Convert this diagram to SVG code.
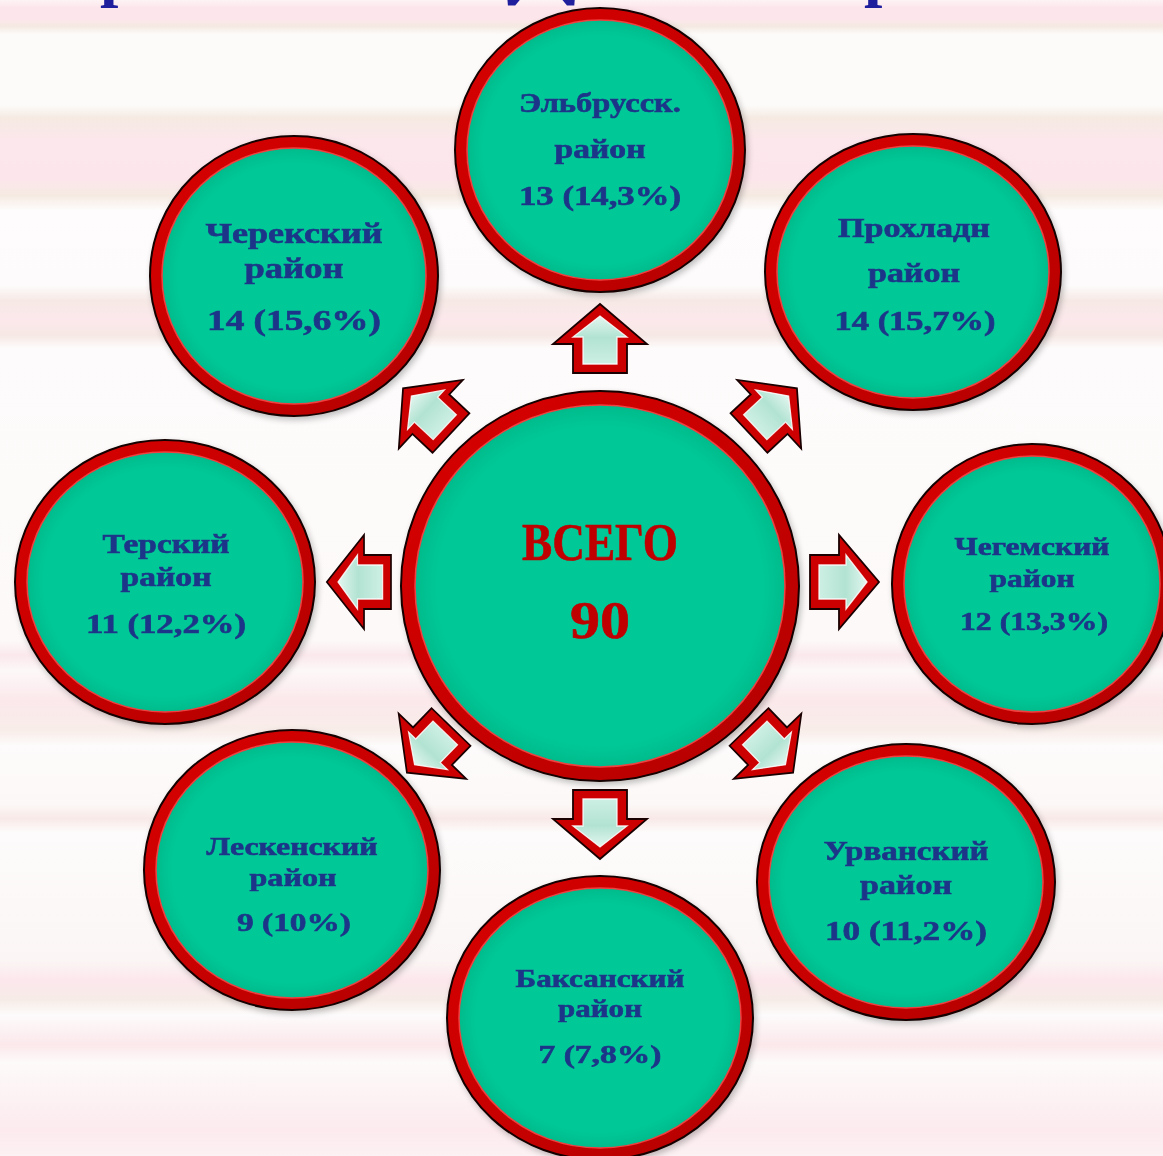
<svg xmlns="http://www.w3.org/2000/svg" width="1163" height="1156" viewBox="0 0 1163 1156">
<defs>
<linearGradient id="bg" gradientUnits="userSpaceOnUse" x1="0" y1="0" x2="0" y2="1156">
<stop offset="0" stop-color="#FDF3F5"/>
<stop offset="0.007" stop-color="#FCE5EB"/>
<stop offset="0.017" stop-color="#FCE6EB"/>
<stop offset="0.0225" stop-color="#F4E9E1"/>
<stop offset="0.03" stop-color="#FDFBFA"/>
<stop offset="0.091" stop-color="#FCFBF9"/>
<stop offset="0.102" stop-color="#F5EAE2"/>
<stop offset="0.121" stop-color="#FCE7EC"/>
<stop offset="0.156" stop-color="#FCE6EB"/>
<stop offset="0.169" stop-color="#F5EAE2"/>
<stop offset="0.182" stop-color="#FEFCFC"/>
<stop offset="0.247" stop-color="#FDFBFB"/>
<stop offset="0.26" stop-color="#F6E9E5"/>
<stop offset="0.277" stop-color="#FCE8EC"/>
<stop offset="0.29" stop-color="#F6E8E4"/>
<stop offset="0.301" stop-color="#FDFBFB"/>
<stop offset="0.554" stop-color="#FDF9F9"/>
<stop offset="0.567" stop-color="#FAE8EC"/>
<stop offset="0.58" stop-color="#FDF8F8"/>
<stop offset="0.606" stop-color="#FBE8EB"/>
<stop offset="0.632" stop-color="#F8EDE9"/>
<stop offset="0.645" stop-color="#FDFBFB"/>
<stop offset="0.696" stop-color="#FCF8F7"/>
<stop offset="0.708" stop-color="#F8E9E7"/>
<stop offset="0.72" stop-color="#FDFBFB"/>
<stop offset="0.83" stop-color="#FBF6F5"/>
<stop offset="0.848" stop-color="#FCE7EC"/>
<stop offset="0.865" stop-color="#F6ECE7"/>
<stop offset="0.878" stop-color="#FDFBFB"/>
<stop offset="0.904" stop-color="#FBE8EB"/>
<stop offset="0.919" stop-color="#FDFAFA"/>
<stop offset="0.978" stop-color="#FCEAEE"/>
<stop offset="1" stop-color="#FCF1F3"/>
</linearGradient>
<linearGradient id="ring" x1="0" y1="0" x2="1" y2="1">
<stop offset="0" stop-color="#D80000"/>
<stop offset="0.5" stop-color="#C80000"/>
<stop offset="1" stop-color="#B20000"/>
</linearGradient>
<radialGradient id="teal" cx="0.5" cy="0.5" r="0.5">
<stop offset="0.88" stop-color="#00C897"/>
<stop offset="1" stop-color="#00BB8C"/>
</radialGradient>
<linearGradient id="mint" x1="0" y1="0" x2="1" y2="0">
<stop offset="0" stop-color="#CDEFE4"/>
<stop offset="0.55" stop-color="#B2E3D2"/>
<stop offset="1" stop-color="#E3F6EF"/>
</linearGradient>
<filter id="sh" x="-10%" y="-10%" width="125%" height="125%">
<feGaussianBlur in="SourceAlpha" stdDeviation="3"/>
<feOffset dx="2" dy="3" result="b"/>
<feComponentTransfer><feFuncA type="linear" slope="0.25"/></feComponentTransfer>
<feMerge><feMergeNode/><feMergeNode in="SourceGraphic"/></feMerge>
</filter>
<g id="arrow">
<path d="M0,-27 L29,-27 L29,-47 L69,0 L29,47 L29,27 L0,27 Z" fill="#CC0000" stroke="#1a0000" stroke-width="1.8" stroke-linejoin="miter"/>
<path d="M9,-17 L36,-17 L36,-27 L57,0 L36,27 L36,17 L9,17 Z" fill="url(#mint)" stroke="#ffffff" stroke-width="1.3" stroke-opacity="0.85"/>
</g>
</defs>
<style>
.ring{fill:url(#ring);stroke:#140000;stroke-width:2}
.core{fill:url(#teal);stroke:#F04040;stroke-width:1.5}
.lbl{font-family:"Liberation Serif","DejaVu Serif",serif;font-weight:bold;fill:#1C3688;stroke:#1C3688;stroke-width:0.6;text-anchor:middle}
.tot{font-family:"Liberation Serif","DejaVu Serif",serif;font-weight:bold;fill:#C00000;stroke:#C00000;stroke-width:0.6;text-anchor:middle;font-size:52px}
.ttl{font-family:"Liberation Serif","DejaVu Serif",serif;font-weight:bold;fill:#1F1F9E;font-size:66px}
</style>
<rect x="0" y="0" width="1163" height="1156" fill="url(#bg)"/>
<g id="title-fragment">
<text class="ttl" x="100" y="-6">р</text>
<text class="ttl" x="505" y="-6" textLength="72" lengthAdjust="spacingAndGlyphs">д</text>
<text class="ttl" x="864" y="-6">р</text>
</g>
<g id="connectors">
<use href="#arrow" transform="translate(600,373) rotate(-90)"/>
<use href="#arrow" transform="translate(600,790) rotate(90)"/>
<use href="#arrow" transform="translate(810,582)"/>
<use href="#arrow" transform="translate(391,582) rotate(180) scale(0.93,1)"/>
<use href="#arrow" transform="translate(451,433) rotate(-137) scale(0.95,1)"/>
<use href="#arrow" transform="translate(749,433) rotate(-43) scale(0.95,1)"/>
<use href="#arrow" transform="translate(451,727) rotate(134) scale(0.92,1)"/>
<use href="#arrow" transform="translate(749,727) rotate(46) scale(0.92,1)"/>
</g>
<g id="node-center" filter="url(#sh)">
<ellipse class="ring" cx="600" cy="586" rx="199" ry="195"/>
<ellipse class="core" cx="600" cy="586" rx="185" ry="181"/>
<text class="tot" x="600" y="560" textLength="156" lengthAdjust="spacingAndGlyphs">ВСЕГО</text>
<text class="tot" x="600" y="638" textLength="60" lengthAdjust="spacingAndGlyphs">90</text>
</g>
<g id="node-elbrus" filter="url(#sh)">
<ellipse class="ring" cx="600" cy="150" rx="145" ry="142"/>
<ellipse class="core" cx="600" cy="150" rx="133" ry="130"/>
<text class="lbl" font-size="27" x="600" y="112" textLength="162" lengthAdjust="spacingAndGlyphs">Эльбрусск.</text>
<text class="lbl" font-size="27" x="600" y="158" textLength="91" lengthAdjust="spacingAndGlyphs">район</text>
<text class="lbl" font-size="27" x="600" y="205" textLength="162" lengthAdjust="spacingAndGlyphs">13 (14,3%)</text>
</g>
<g id="node-cherek" filter="url(#sh)">
<ellipse class="ring" cx="294" cy="276" rx="144" ry="140"/>
<ellipse class="core" cx="294" cy="276" rx="132" ry="128"/>
<text class="lbl" font-size="29" x="294" y="243" textLength="177" lengthAdjust="spacingAndGlyphs">Черекский</text>
<text class="lbl" font-size="29" x="294" y="278" textLength="99" lengthAdjust="spacingAndGlyphs">район</text>
<text class="lbl" font-size="29" x="294" y="330" textLength="174" lengthAdjust="spacingAndGlyphs">14 (15,6%)</text>
</g>
<g id="node-prokhladn" filter="url(#sh)">
<ellipse class="ring" cx="913" cy="272" rx="148" ry="138"/>
<ellipse class="core" cx="913" cy="272" rx="136" ry="126"/>
<text class="lbl" font-size="27" x="914" y="237" textLength="152" lengthAdjust="spacingAndGlyphs">Прохладн</text>
<text class="lbl" font-size="27" x="914" y="282" textLength="92" lengthAdjust="spacingAndGlyphs">район</text>
<text class="lbl" font-size="27" x="915" y="330" textLength="161" lengthAdjust="spacingAndGlyphs">14 (15,7%)</text>
</g>
<g id="node-terek" filter="url(#sh)">
<ellipse class="ring" cx="165" cy="582" rx="150" ry="142"/>
<ellipse class="core" cx="165" cy="582" rx="138" ry="130"/>
<text class="lbl" font-size="27" x="166" y="553" textLength="127" lengthAdjust="spacingAndGlyphs">Терский</text>
<text class="lbl" font-size="27" x="166" y="586" textLength="91" lengthAdjust="spacingAndGlyphs">район</text>
<text class="lbl" font-size="27" x="166" y="633" textLength="160" lengthAdjust="spacingAndGlyphs">11 (12,2%)</text>
</g>
<g id="node-chegem" filter="url(#sh)">
<ellipse class="ring" cx="1032" cy="584" rx="140" ry="140"/>
<ellipse class="core" cx="1032" cy="584" rx="128" ry="128"/>
<text class="lbl" font-size="25" x="1032" y="555" textLength="155" lengthAdjust="spacingAndGlyphs">Чегемский</text>
<text class="lbl" font-size="25" x="1032" y="587" textLength="85" lengthAdjust="spacingAndGlyphs">район</text>
<text class="lbl" font-size="25" x="1034" y="630" textLength="148" lengthAdjust="spacingAndGlyphs">12 (13,3%)</text>
</g>
<g id="node-lesken" filter="url(#sh)">
<ellipse class="ring" cx="292" cy="870" rx="148" ry="140"/>
<ellipse class="core" cx="292" cy="870" rx="136" ry="128"/>
<text class="lbl" font-size="26" x="292" y="855" textLength="171" lengthAdjust="spacingAndGlyphs">Лескенский</text>
<text class="lbl" font-size="26" x="293" y="886" textLength="87" lengthAdjust="spacingAndGlyphs">район</text>
<text class="lbl" font-size="26" x="294" y="931" textLength="114" lengthAdjust="spacingAndGlyphs">9 (10%)</text>
</g>
<g id="node-baksan" filter="url(#sh)">
<ellipse class="ring" cx="600" cy="1018" rx="153" ry="142"/>
<ellipse class="core" cx="600" cy="1018" rx="141" ry="130"/>
<text class="lbl" font-size="26" x="600" y="987" textLength="169" lengthAdjust="spacingAndGlyphs">Баксанский</text>
<text class="lbl" font-size="26" x="600" y="1017" textLength="84" lengthAdjust="spacingAndGlyphs">район</text>
<text class="lbl" font-size="26" x="600" y="1063" textLength="123" lengthAdjust="spacingAndGlyphs">7 (7,8%)</text>
</g>
<g id="node-urvan" filter="url(#sh)">
<ellipse class="ring" cx="906" cy="882" rx="149" ry="138"/>
<ellipse class="core" cx="906" cy="882" rx="137" ry="126"/>
<text class="lbl" font-size="27" x="906" y="860" textLength="165" lengthAdjust="spacingAndGlyphs">Урванский</text>
<text class="lbl" font-size="27" x="906" y="894" textLength="92" lengthAdjust="spacingAndGlyphs">район</text>
<text class="lbl" font-size="27" x="906" y="940" textLength="162" lengthAdjust="spacingAndGlyphs">10 (11,2%)</text>
</g>
</svg>
